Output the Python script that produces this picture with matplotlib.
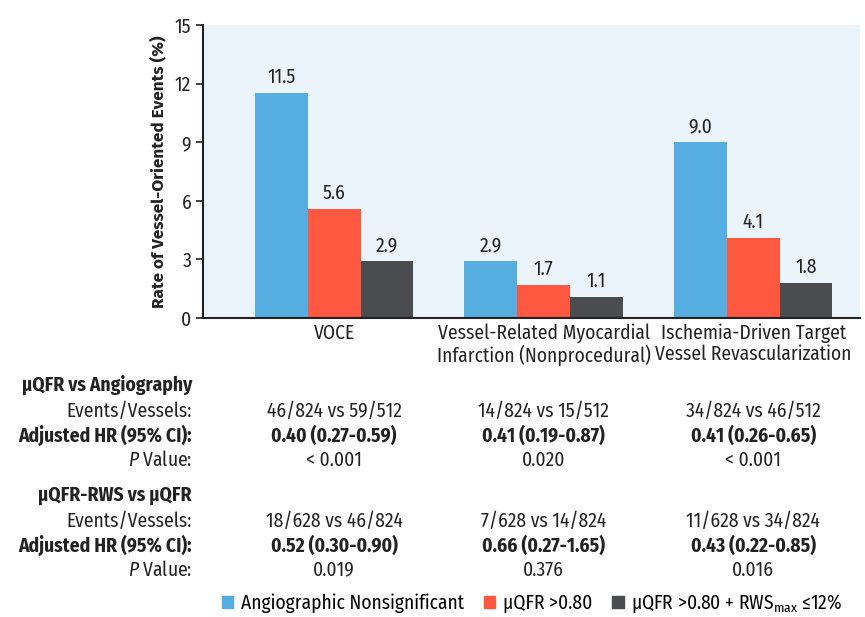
import numpy as np
import matplotlib
matplotlib.use('Agg')
import matplotlib.pyplot as plt
import matplotlib.transforms as mtransforms
from matplotlib.patches import Patch

# Fonts
plt.rcParams['font.family'] = ['Fira Sans Condensed', 'DejaVu Sans']
plt.rcParams['mathtext.fontset'] = 'custom'
plt.rcParams['mathtext.rm'] = 'Fira Sans Condensed'
plt.rcParams['mathtext.it'] = 'Fira Sans Condensed:italic'

# Data
categories = ['VOCE', 'Vessel-Related Myocardial\nInfarction (Nonprocedural)',
              'Ischemia-Driven Target\nVessel Revascularization']
angio = [11.5, 2.9, 9.0]
uqfr = [5.6, 1.7, 4.1]
uqfr_rws = [2.9, 1.1, 1.8]
series_names = ['Angiographic Nonsignificant', 'µQFR >0.80',
                'µQFR >0.80 + RWS$_{\\mathrm{max}}$ ≤12%']
colors = ['#56ade0', '#fe5840', '#4a4c50']

# Table data
block1_title = 'µQFR vs Angiography'
block1_events = ['46/824 vs 59/512', '14/824 vs 15/512', '34/824 vs 46/512']
block1_hr = ['0.40 (0.27-0.59)', '0.41 (0.19-0.87)', '0.41 (0.26-0.65)']
block1_p = ['< 0.001', '0.020', '< 0.001']
block2_title = 'µQFR-RWS vs µQFR'
block2_events = ['18/628 vs 46/824', '7/628 vs 14/824', '11/628 vs 34/824']
block2_hr = ['0.52 (0.30-0.90)', '0.66 (0.27-1.65)', '0.43 (0.22-0.85)']
block2_p = ['0.019', '0.376', '0.016']

W, H = 865, 617
fs = 14
fig = plt.figure(figsize=(W / 100, H / 100), dpi=100)
ax = fig.add_axes([203 / W, 1 - 318 / H, 657 / W, 293 / H])
ax.set_facecolor('#ebf4fb')

x = np.arange(len(categories))
width = 0.252
for i, (vals, c) in enumerate(zip([angio, uqfr, uqfr_rws], colors)):
    pos = x + (i - 1) * width
    ax.bar(pos, vals, width, color=c, zorder=2)
    for px, v in zip(pos, vals):
        ax.text(px, v + 0.3, f'{v:.1f}', ha='center', va='bottom',
                fontsize=fs, color='#222222')

ax.set_xlim(-0.626, 2.51)
ax.set_ylim(0, 15)
ax.set_yticks([0, 3, 6, 9, 12, 15])
ax.tick_params(axis='y', labelsize=fs, length=5, width=1.2, colors='#222222')
ax.tick_params(axis='x', length=0, labelsize=fs, pad=4, colors='#222222')
ax.set_xticks(x)
ax.set_xticklabels(categories, linespacing=1.08)
for s in ['top', 'right']:
    ax.spines[s].set_visible(False)
for s in ['left', 'bottom']:
    ax.spines[s].set_linewidth(1.5)
    ax.spines[s].set_color('#222222')
ax.set_ylabel('Rate of Vessel-Oriented Events (%)', fontsize=12.3,
              fontweight='bold', family=['Fira Sans', 'DejaVu Sans'],
              labelpad=6, color='#222222')

# Table below chart
trans = mtransforms.blended_transform_factory(ax.transData, fig.transFigure)
lx = 192 / W


def fy(py):
    return 1 - py / H


def block(title, events, hr, p, y0):
    fig.text(lx, fy(y0), title, ha='right', va='center', fontsize=fs,
             fontweight='bold', color='#222222')
    rows = [('Events/Vessels:', events, 'normal'),
            ('Adjusted HR (95% CI):', hr, 'bold'),
            ('$\\mathit{P}$ Value:', p, 'normal')]
    for k, (lab, vals, w) in enumerate(rows):
        yy = fy(y0 + 26 + k * 24.5)
        fig.text(lx, yy, lab, ha='right', va='center', fontsize=fs,
                 fontweight=w, color='#222222')
        for xi, v in zip(x, vals):
            fig.text(xi, yy, v, transform=trans, ha='center', va='center',
                     fontsize=fs, fontweight=w, color='#222222')


block(block1_title, block1_events, block1_hr, block1_p, 385)
block(block2_title, block2_events, block2_hr, block2_p, 495)

handles = [Patch(color=c, label=n) for c, n in zip(colors, series_names)]
fig.legend(handles=handles, loc='center', bbox_to_anchor=(532 / W, fy(604)),
           ncol=3, frameon=False, fontsize=fs, handlelength=0.6,
           handleheight=0.6, handletextpad=0.4, columnspacing=1.0)

fig.savefig('out.png', dpi=100)
